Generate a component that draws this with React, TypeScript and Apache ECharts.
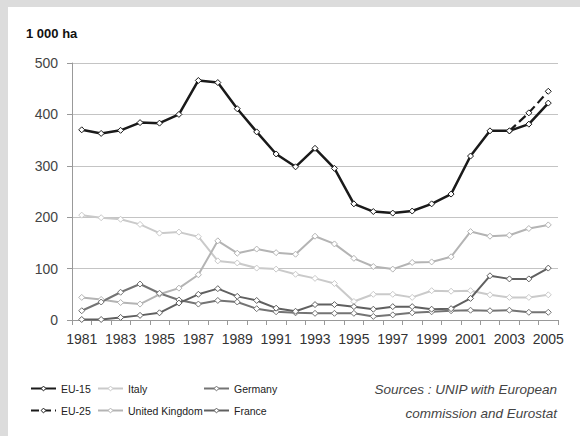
import React, { useEffect, useRef } from "react";
import * as echarts from "echarts";

const years = ["1981","1982","1983","1984","1985","1986","1987","1988","1989","1990","1991","1992","1993","1994","1995","1996","1997","1998","1999","2000","2001","2002","2003","2004","2005"];
const eu15 = [370, 363, 369, 384, 383, 400, 466, 462, 411, 366, 323, 298, 334, 295, 226, 211, 208, 212, 226, 245, 319, 368, 368, 381, 422];
const eu25 = [null, null, null, null, null, null, null, null, null, null, null, null, null, null, null, null, null, null, null, null, null, null, 368, 403, 445];
const italy = [204, 199, 196, 186, 169, 171, 162, 115, 111, 101, 99, 89, 81, 71, 36, 50, 50, 44, 57, 56, 57, 49, 44, 44, 49];
const uk = [44, 40, 34, 31, 50, 62, 88, 154, 130, 138, 131, 128, 163, 148, 120, 104, 99, 112, 113, 123, 172, 163, 165, 178, 185];
const germany = [18, 35, 54, 70, 52, 39, 31, 38, 35, 22, 16, 14, 13, 13, 13, 7, 10, 14, 16, 18, 19, 18, 19, 15, 15];
const france = [1, 1, 5, 9, 14, 33, 50, 61, 46, 38, 23, 17, 30, 30, 26, 21, 26, 26, 21, 22, 42, 86, 80, 80, 101];
const yTicks = { min: 0, max: 500, interval: 100 };

const FONT = "'Liberation Sans', Arial, sans-serif";

function mkSeries(name: string, data: (number | null)[], color: string, width: number, dashed = false) {
  return {
    name,
    type: "line",
    data,
    symbol: "diamond",
    symbolSize: 6,
    showSymbol: true,
    connectNulls: false,
    lineStyle: { color, width, type: dashed ? "dashed" : "solid" },
    itemStyle: { color: "#ffffff", borderColor: color, borderWidth: 1 },
    emphasis: { disabled: true },
    z: 2,
  };
}

export default function App() {
  const ref = useRef<HTMLDivElement>(null);
  useEffect(() => {
    if (!ref.current) return;
    const chart = echarts.init(ref.current, null, { renderer: "svg" });
    const legendText = { fontSize: 10.5, color: "#222", fontFamily: FONT };
    const legendCommon = {
      orient: "vertical",
      top: 383,
      itemGap: 11,
      itemWidth: 25,
      itemHeight: 6,
      padding: 0,
      textStyle: legendText,
      itemStyle: { borderWidth: 1 },
      selectedMode: false,
    };
    chart.setOption({
      animation: false,
      backgroundColor: "#dcdcdc",
      graphic: [
        { type: "rect", shape: { x: 8, y: 7, width: 572, height: 429 }, style: { fill: "#ffffff" }, z: -10, silent: true },
        { type: "text", x: 26, y: 33, style: { text: "1 000 ha", font: `bold 13px ${FONT}`, fill: "#111", verticalAlign: "middle" } },
        { type: "text", x: 557, y: 389, style: { text: "Sources : UNIP with European", font: `italic 13.5px ${FONT}`, fill: "#444", textAlign: "right", verticalAlign: "middle" } },
        { type: "text", x: 557, y: 413, style: { text: "commission and Eurostat", font: `italic 13.5px ${FONT}`, fill: "#444", textAlign: "right", verticalAlign: "middle" } },
      ],
      legend: [
        { ...legendCommon, left: 30, data: ["EU-15", "EU-25"] },
        { ...legendCommon, left: 97, data: ["Italy", "United Kingdom"] },
        { ...legendCommon, left: 203, data: ["Germany", "France"] },
      ],
      grid: { left: 72, right: 22, top: 63, bottom: 116, containLabel: false, outerBoundsMode: "none" },
      xAxis: {
        type: "category",
        data: years,
        boundaryGap: true,
        axisLine: { show: true, lineStyle: { color: "#999", width: 1 } },
        axisTick: { show: true, interval: 0, length: 5, lineStyle: { color: "#999" } },
        axisLabel: { interval: 1, margin: 12, fontSize: 14, color: "#333", fontFamily: FONT },
        splitLine: { show: false },
      },
      yAxis: {
        type: "value",
        min: yTicks.min,
        max: yTicks.max,
        interval: yTicks.interval,
        axisLine: { show: true, lineStyle: { color: "#999", width: 1 } },
        axisTick: { show: true, length: 5, lineStyle: { color: "#999" } },
        axisLabel: { margin: 14, fontSize: 14, color: "#444", fontFamily: FONT },
        splitLine: { show: true, lineStyle: { color: "#c4c4c4", width: 1 } },
      },
      series: [
        mkSeries("Italy", italy, "#cacaca", 2),
        mkSeries("United Kingdom", uk, "#b4b4b4", 2),
        mkSeries("Germany", germany, "#747474", 2),
        mkSeries("France", france, "#606060", 2),
        mkSeries("EU-25", eu25, "#1a1a1a", 2.2, true),
        mkSeries("EU-15", eu15, "#1a1a1a", 2.5),
      ],
    });
    return () => chart.dispose();
  }, []);
  return (
    <div style={{ position: "fixed", left: 0, top: 0, width: 580, height: 436 }}>
      <div ref={ref} style={{ width: 580, height: 436 }} />
    </div>
  );
}
